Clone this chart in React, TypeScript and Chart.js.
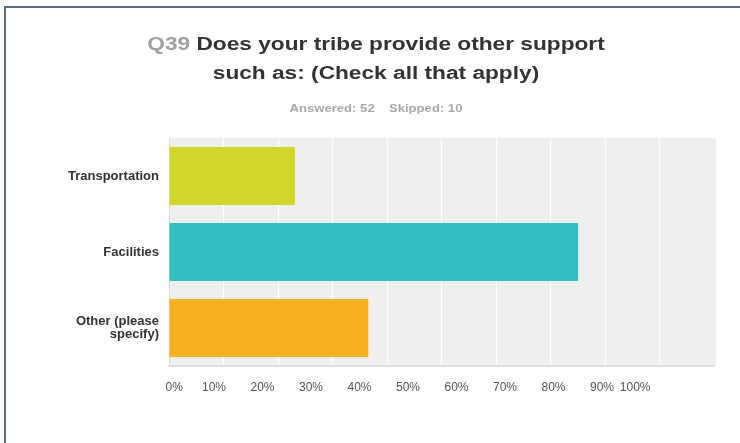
import React, { useEffect, useRef } from "react";
import { Chart, registerables } from "chart.js";

Chart.register(...registerables);

const categories: (string | string[])[] = ["Transportation", "Facilities", ["Other (please", "specify)"]];
const percentValues = [23.08, 75.0, 36.54];
const barColors = ["#d1d62a", "#33bec0", "#f7b01f"];
const tickValues = [0, 10, 20, 30, 40, 50, 60, 70, 80, 90, 100];

const FONT = '"Liberation Sans", Arial, sans-serif';

const plotBg = {
  id: "plotBg",
  beforeDraw(chart: any) {
    const { ctx, chartArea } = chart;
    ctx.save();
    ctx.fillStyle = "#efefef";
    ctx.fillRect(chartArea.left, chartArea.top, chartArea.right - chartArea.left + 1.5, chartArea.bottom - chartArea.top);
    ctx.restore();
  },
};

export default function App() {
  const ref = useRef<HTMLCanvasElement | null>(null);

  useEffect(() => {
    if (!ref.current) return;
    const chart = new Chart(ref.current, {
      type: "bar",
      data: {
        labels: categories as any,
        datasets: [
          {
            data: percentValues,
            backgroundColor: barColors,
            borderWidth: 0,
            barPercentage: 0.763,
            categoryPercentage: 1,
          },
        ],
      },
      plugins: [plotBg],
      options: {
        indexAxis: "y",
        animation: false,
        responsive: false,
        layout: { padding: { top: 138, right: 25.5, bottom: 37, left: 0 } },
        plugins: { legend: { display: false }, tooltip: { enabled: false }, title: { display: false } },
        scales: {
          y: {
            type: "category",
            offset: true,
            afterFit: (s: any) => {
              s.width = 169;
            },
            grid: { display: false, drawTicks: false },
            border: { display: true, color: "#dcdcdc", width: 1 },
            ticks: {
              color: "#333333",
              padding: 10,
              font: { family: FONT, size: 13, weight: "bold", lineHeight: 1.05 },
            },
          },
          x: {
            type: "linear",
            position: "bottom",
            weight: 0,
            min: 0,
            max: 100,
            afterFit: (s: any) => {
              s.height = 0;
            },
            afterBuildTicks: (s: any) => {
              s.ticks = tickValues.map((v) => ({ value: v }));
            },
            grid: {
              color: (c: any) => (c.tick && (c.tick.value === 0 || c.tick.value === 100) ? "rgba(0,0,0,0)" : "#ffffff"),
              lineWidth: 1,
              drawTicks: false,
            },
            border: { display: true, color: "#dcdcdc", width: 2 },
            ticks: { display: false },
          },
          x2: {
            type: "linear",
            position: "bottom",
            weight: 1,
            min: 0,
            max: 112.47,
            afterFit: (s: any) => {
              s.height = 40;
            },
            afterBuildTicks: (s: any) => {
              s.ticks = tickValues.map((v) => ({ value: v }));
            },
            grid: { display: false, drawTicks: false },
            border: { display: false },
            ticks: {
              autoSkip: false,
              maxRotation: 0,
              align: "inner",
              labelOffset: -3.5,
              padding: 14,
              color: "#555555",
              font: { family: FONT, size: 12 },
              callback: (v: any) => v + "%",
            },
          },
        },
      } as any,
    });
    return () => chart.destroy();
  }, []);

  return (
    <div style={{ position: "absolute", left: 0, top: 0, width: 740, height: 443, overflow: "hidden", background: "#fff" }}>
      <div
        style={{
          position: "absolute",
          left: 4,
          top: 6,
          width: 740,
          height: 443,
          borderTop: "2px solid #5a6a7e",
          borderLeft: "2px solid #5a6a7e",
          boxSizing: "border-box",
        }}
      />
      <canvas ref={ref} width={740} height={443} style={{ position: "absolute", left: 0, top: 0, width: 740, height: 443 }} />
      <div
        style={{
          position: "absolute",
          left: 12,
          top: 30,
          width: 728,
          textAlign: "center",
          fontFamily: FONT,
          fontSize: 18,
          fontWeight: "bold",
          lineHeight: "29px",
          color: "#333333",
          transform: "scaleX(1.26)",
          transformOrigin: "50% 50%",
        }}
      >
        <div>
          <span style={{ color: "#a0a0a0" }}>Q39</span> Does your tribe provide other support
        </div>
        <div>such as: (Check all that apply)</div>
      </div>
      <div
        style={{
          position: "absolute",
          left: 12,
          top: 101,
          width: 728,
          textAlign: "center",
          fontFamily: FONT,
          fontSize: 11,
          fontWeight: "bold",
          lineHeight: "14px",
          color: "#a8a8a8",
          transform: "scaleX(1.19)",
          transformOrigin: "50% 50%",
        }}
      >
        <span>Answered: 52</span>
        <span style={{ marginLeft: 12 }}>Skipped: 10</span>
      </div>
    </div>
  );
}
